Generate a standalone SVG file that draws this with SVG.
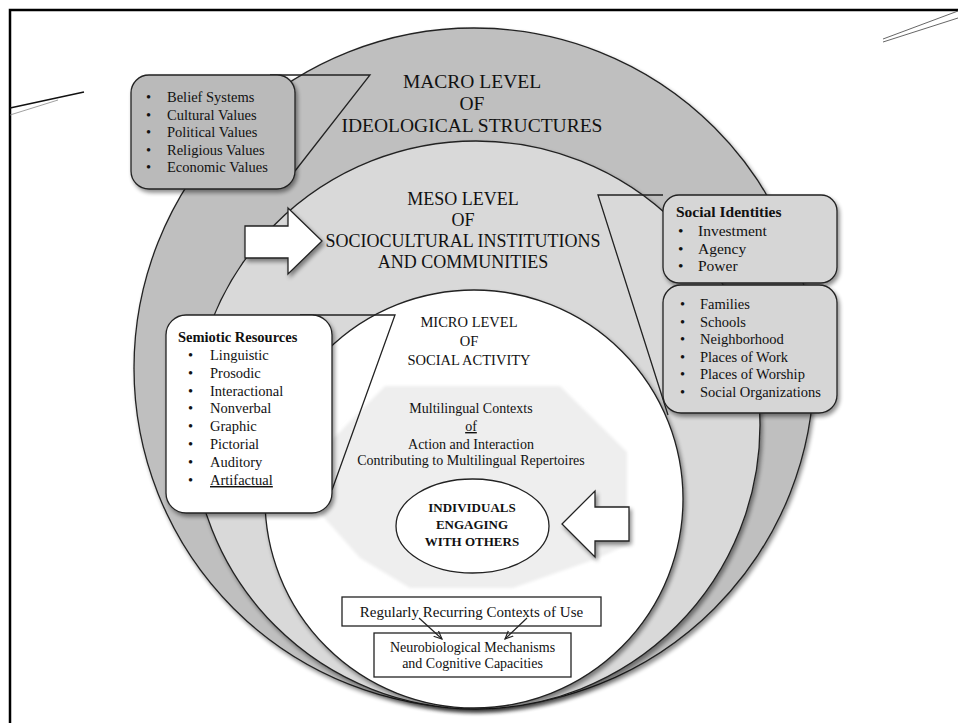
<svg xmlns="http://www.w3.org/2000/svg" width="958" height="723" viewBox="0 0 958 723">
<defs>
<style>
.t{font-family:"Liberation Serif","Times New Roman",serif;fill:#111}
.b{font-weight:bold}
.c{text-anchor:middle}
.ln{stroke:#222;stroke-width:1.3;fill:none}
.bx{stroke:#222;stroke-width:1.3}
</style>
<filter id="sh" x="-10%" y="-10%" width="130%" height="130%">
<feGaussianBlur in="SourceAlpha" stdDeviation="2.2"/>
<feOffset dx="2" dy="3"/>
<feComponentTransfer><feFuncA type="linear" slope="0.45"/></feComponentTransfer>
<feMerge><feMergeNode/><feMergeNode in="SourceGraphic"/></feMerge>
</filter>
<filter id="soft" x="-5%" y="-5%" width="110%" height="110%"><feGaussianBlur stdDeviation="1.5"/></filter>
<marker id="ah" viewBox="0 0 10 10" refX="9" refY="5" markerWidth="9" markerHeight="9" orient="auto" markerUnits="userSpaceOnUse">
<path d="M0,1 L9,5 L0,9" fill="none" stroke="#222" stroke-width="1.3"/>
</marker>
</defs>
<rect width="958" height="723" fill="#fff"/>
<g id="frame">
<path d="M10,723 V10 H958" fill="none" stroke="#000" stroke-width="2.5"/>
<line x1="10" y1="108" x2="84" y2="92" stroke="#111" stroke-width="1.5"/>
<line x1="10" y1="115" x2="58" y2="100" stroke="#888" stroke-width="0.8"/>
<line x1="883" y1="39" x2="958" y2="11" stroke="#555" stroke-width="0.9"/>
<line x1="883" y1="42" x2="958" y2="18" stroke="#555" stroke-width="0.9"/>
</g>
<g id="macro">
<circle cx="474" cy="368" r="340" fill="#bfbfbf" class="bx" filter="url(#sh)"/>
<text class="t c" font-size="19.5" x="472" y="88">MACRO LEVEL</text>
<text class="t c" font-size="19.5" x="472" y="110">OF</text>
<text class="t c" font-size="19.5" x="472" y="132">IDEOLOGICAL STRUCTURES</text>
</g>
<g id="belief">
<polyline class="ln" points="270,75 370,75 295,171"/>
<rect x="131" y="75" width="164" height="114" rx="18" fill="#bababa" class="bx" filter="url(#sh)"/>
<g class="t" font-size="14.5">
<text x="146" y="102">•</text><text x="167" y="102">Belief Systems</text>
<text x="146" y="119.5">•</text><text x="167" y="119.5">Cultural Values</text>
<text x="146" y="137">•</text><text x="167" y="137">Political Values</text>
<text x="146" y="154.5">•</text><text x="167" y="154.5">Religious Values</text>
<text x="146" y="172">•</text><text x="167" y="172">Economic Values</text>
</g>
</g>
<g id="meso">
<circle cx="476" cy="425" r="284" fill="#d9d9d9" class="bx" filter="url(#sh)"/>
<text class="t c" font-size="18" x="463" y="205">MESO LEVEL</text>
<text class="t c" font-size="18" x="463" y="226">OF</text>
<text class="t c" font-size="18" x="463" y="247">SOCIOCULTURAL INSTITUTIONS</text>
<text class="t c" font-size="18" x="463" y="268">AND COMMUNITIES</text>
</g>
<g id="arrow-left">
<polygon points="245,226 288,226 288,208 322,241 288,274 288,258 245,258" fill="#fff" class="bx" filter="url(#sh)"/>
</g>
<g id="micro">
<circle cx="474" cy="499" r="209" fill="#fff" class="bx" filter="url(#sh)"/>
<polygon points="385,386 560,386 627,452 627,545 593,560 513,588 410,588 360,558 320,513 320,452" fill="#eeeeee" filter="url(#soft)"/>
<text class="t c" font-size="14.5" x="469" y="327">MICRO LEVEL</text>
<text class="t c" font-size="14.5" x="469" y="346">OF</text>
<text class="t c" font-size="14.5" x="469" y="365">SOCIAL ACTIVITY</text>
</g>
<g id="contexts">
<text class="t c" font-size="14" x="471" y="413">Multilingual Contexts</text>
<text class="t c" font-size="14" x="471" y="431" text-decoration="underline">of</text>
<text class="t c" font-size="14" x="471" y="449">Action and Interaction</text>
<text class="t c" font-size="14" x="471" y="465">Contributing to Multilingual Repertoires</text>
</g>
<g id="individuals">
<ellipse cx="472.5" cy="526" rx="76.5" ry="47" fill="#fff" class="bx"/>
<text class="t b c" font-size="13" x="472" y="512">INDIVIDUALS</text>
<text class="t b c" font-size="13" x="472" y="529">ENGAGING</text>
<text class="t b c" font-size="13" x="472" y="546">WITH OTHERS</text>
</g>
<g id="arrow-right">
<polygon points="629,507 595,507 595,491 562,524 595,557 595,541 629,541" fill="#fff" class="bx" filter="url(#sh)"/>
</g>
<g id="semiotic">
<polyline class="ln" points="300,315 395,315 332,490"/>
<rect x="166" y="315" width="166" height="198" rx="20" fill="#fff" class="bx" filter="url(#sh)"/>
<g class="t" font-size="14.5">
<text class="b" x="178" y="342">Semiotic Resources</text>
<text x="188" y="360">•</text><text x="210" y="360">Linguistic</text>
<text x="188" y="378">•</text><text x="210" y="378">Prosodic</text>
<text x="188" y="395.5">•</text><text x="210" y="395.5">Interactional</text>
<text x="188" y="413">•</text><text x="210" y="413">Nonverbal</text>
<text x="188" y="431">•</text><text x="210" y="431">Graphic</text>
<text x="188" y="449">•</text><text x="210" y="449">Pictorial</text>
<text x="188" y="467">•</text><text x="210" y="467">Auditory</text>
<text x="188" y="485">•</text><text x="210" y="485" text-decoration="underline">Artifactual</text>
</g>
</g>
<g id="social-identities">
<polyline class="ln" points="663,195 598,195 668,415"/>
<rect x="663" y="195" width="174" height="88" rx="16" fill="#d6d6d6" class="bx" filter="url(#sh)"/>
<g class="t" font-size="15.5">
<text class="b" x="676" y="217">Social Identities</text>
<text x="678" y="236">•</text><text x="698" y="236">Investment</text>
<text x="678" y="254">•</text><text x="698" y="254">Agency</text>
<text x="678" y="271">•</text><text x="698" y="271">Power</text>
</g>
</g>
<g id="institutions">
<rect x="663" y="285" width="174" height="128" rx="18" fill="#d6d6d6" class="bx" filter="url(#sh)"/>
<g class="t" font-size="14.5">
<text x="680" y="309">•</text><text x="700" y="309">Families</text>
<text x="680" y="326.5">•</text><text x="700" y="326.5">Schools</text>
<text x="680" y="344">•</text><text x="700" y="344">Neighborhood</text>
<text x="680" y="361.5">•</text><text x="700" y="361.5">Places of Work</text>
<text x="680" y="379">•</text><text x="700" y="379">Places of Worship</text>
<text x="680" y="396.5">•</text><text x="700" y="396.5">Social Organizations</text>
</g>
</g>
<g id="recurring">
<rect x="342" y="597" width="259" height="29" fill="#fff" class="bx"/>
<text class="t c" font-size="15" x="471.5" y="617">Regularly Recurring Contexts of Use</text>
</g>
<g id="neuro">
<rect x="374" y="633" width="197" height="44" fill="#fff" class="bx"/>
<text class="t c" font-size="14" x="472.5" y="652">Neurobiological Mechanisms</text>
<text class="t c" font-size="14" x="472.5" y="668">and Cognitive Capacities</text>
</g>
<g id="connectors">
<line x1="419" y1="618" x2="442" y2="639" stroke="#222" stroke-width="1.2" marker-end="url(#ah)"/>
<line x1="527" y1="618" x2="505" y2="639" stroke="#222" stroke-width="1.2" marker-end="url(#ah)"/>
</g>
</svg>
